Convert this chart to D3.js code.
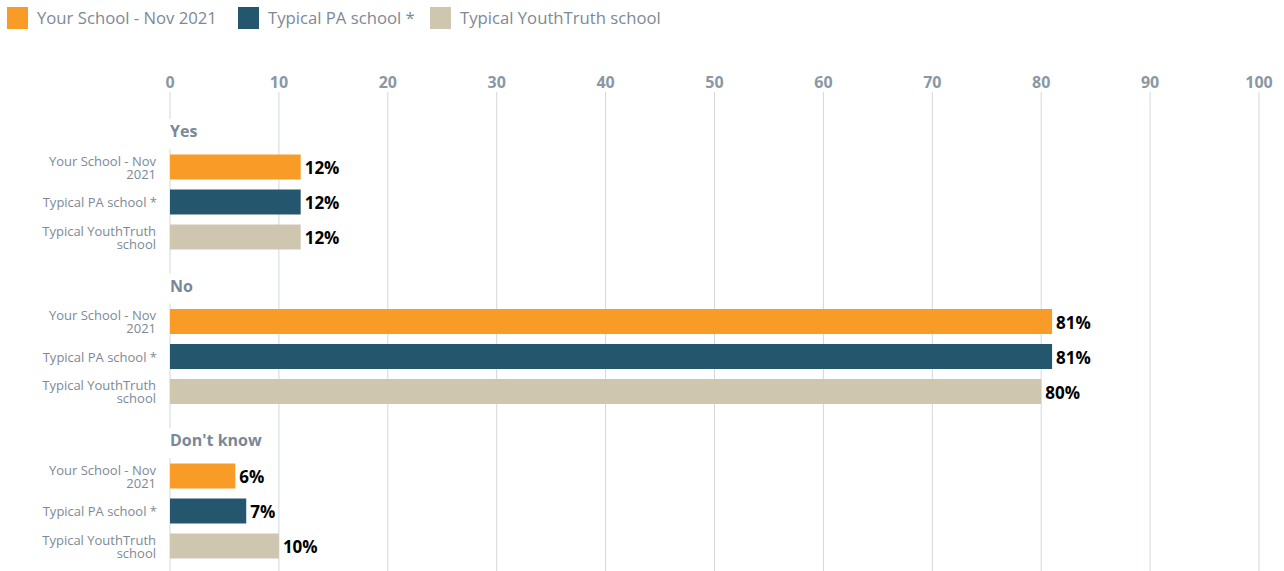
<!DOCTYPE html>
<html>
<head>
<meta charset="utf-8">
<script src="https://cdn.jsdelivr.net/npm/d3@7"></script>
<style>
  body { margin: 0; background: #fff; }
  svg { font-family: "Open Sans", sans-serif; display: block; }
</style>
</head>
<body>
<svg></svg>
<script>
const width = 1284
const height = 571

// data
const groups = ['Yes', 'No', "Don't know"]
const series = ['Your School - Nov 2021', 'Typical PA school *', 'Typical YouthTruth school']
const seriesLines = [['Your School - Nov', '2021'], ['Typical PA school * '], ['Typical YouthTruth', 'school']]
const colors = ['#f89c27', '#24566e', '#cfc6b0']
const yourSchool = [12, 81, 6]
const typicalPA = [12, 81, 7]
const typicalYT = [12, 80, 10]
const ticks = [0, 10, 20, 30, 40, 50, 60, 70, 80, 90, 100]

const values = [yourSchool, typicalPA, typicalYT]

const svg = d3.select('svg').attr('width', width).attr('height', height)

// scales
const x = d3.scaleLinear().domain([0, 100]).range([170, 1259])
const yGroup = d3.scaleBand().domain(groups).range([113, 113 + 3 * 154.5])

// grid
svg.append('g').selectAll('line').data(ticks).enter().append('line')
  .attr('x1', d => x(d)).attr('x2', d => x(d))
  .attr('y1', 92).attr('y2', height)
  .attr('stroke', '#d3d7dc').attr('stroke-width', 1)

// tick labels
svg.append('g').selectAll('text').data(ticks).enter().append('text')
  .attr('x', d => x(d)).attr('y', 88)
  .attr('text-anchor', 'middle')
  .attr('font-size', 16).attr('font-weight', 'bold')
  .attr('fill', '#8a97a4')
  .text(d => d)

// legend
const legendX = [7, 238, 430]
const lg = svg.append('g').selectAll('g').data(series).enter().append('g')
  .attr('transform', (d, i) => `translate(${legendX[i]}, 7)`)
lg.append('rect').attr('width', 21).attr('height', 22).attr('fill', (d, i) => colors[i])
lg.append('text').attr('x', 30).attr('y', 17)
  .attr('font-size', 16.7).attr('fill', '#7d8995')
  .text(d => d)

// groups
const gs = svg.selectAll('.group').data(groups).enter().append('g').attr('class', 'group')

gs.each(function (grp, gi) {
  const g = d3.select(this)
  const y0 = yGroup(grp)
  const yInner = d3.scaleBand().domain(series)
    .range([y0 + 36.5, y0 + 141.5]).paddingInner(0.286).paddingOuter(0.143)

  // header with white backing over the zero line
  g.append('rect')
    .attr('x', x(0) - 5).attr('y', y0 + 6)
    .attr('width', 10).attr('height', 30)
    .attr('fill', '#fff')
  g.append('text')
    .attr('x', x(0)).attr('y', y0 + 24)
    .attr('font-size', 16).attr('font-weight', 'bold')
    .attr('fill', '#7a8896')
    .text(grp)

  series.forEach((s, si) => {
    const v = values[si][gi]
    const yb = yInner(s)
    const h = yInner.bandwidth()
    g.append('rect')
      .attr('x', x(0)).attr('y', yb)
      .attr('width', x(v) - x(0)).attr('height', h)
      .attr('fill', colors[si])
    g.append('text')
      .attr('x', x(v) + 4).attr('y', yb + h / 2 + 7)
      .attr('font-size', 17).attr('font-weight', 'bold')
      .attr('fill', '#000')
      .text(v + '%')

    const lines = seriesLines[si]
    const cy = yb + h / 2
    const t = g.append('text')
      .attr('text-anchor', 'end')
      .attr('font-size', 13).attr('fill', '#7d8995')
    if (lines.length === 1) {
      t.append('tspan').attr('x', 157).attr('y', cy + 5).text(lines[0])
    } else {
      t.append('tspan').attr('x', 156).attr('y', cy - 1.5).text(lines[0])
      t.append('tspan').attr('x', 156).attr('y', cy + 11.5).text(lines[1])
    }
  })
})
</script>
</body>
</html>
